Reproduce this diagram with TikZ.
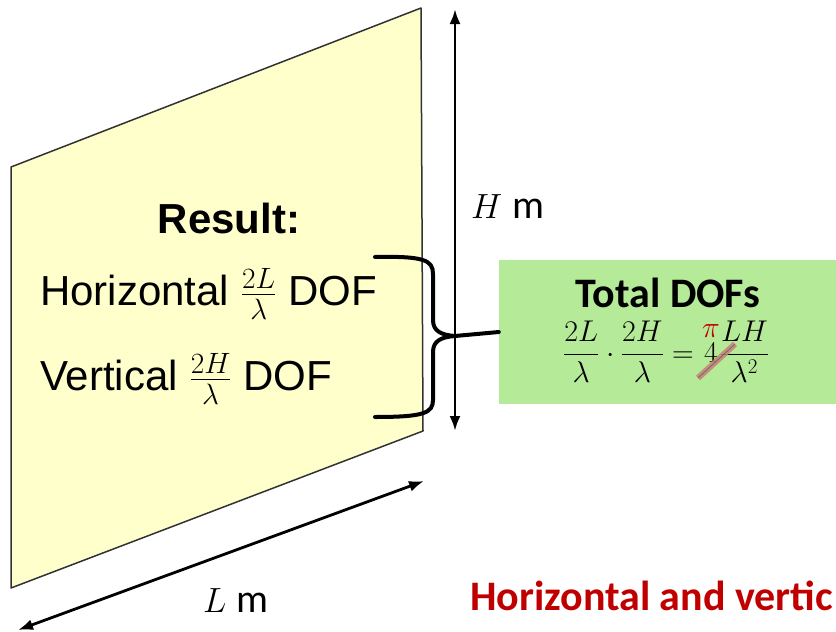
\RequirePackage{fix-cm}
\documentclass[tikz,border=0pt]{standalone}
\usepackage[no-math]{fontspec}
\usepackage{amsmath}
\setmainfont{Liberation Sans}
\newfontfamily\calibri{Carlito}
\usetikzlibrary{arrows.meta}
\definecolor{wallyellow}{RGB}{255,255,204}
\definecolor{wallline}{RGB}{50,50,50}
\definecolor{boxgreen}{RGB}{181,234,153}
\definecolor{darkred}{RGB}{192,0,0}
\definecolor{strikebrown}{RGB}{200,130,100}
\definecolor{strikeblue}{RGB}{90,80,200}
\begin{document}
\begin{tikzpicture}[x=1pt,y=-1pt,
  wall/.style={fill=wallyellow, draw=wallline, line width=1.5pt, line join=round},
  dimarrow/.style={line width=2.8pt, {Latex[length=15pt,width=11pt]}-{Latex[length=15pt,width=11pt]}},
  bracepath/.style={line width=4pt, line cap=round, line join=round},
  bigtext/.style={font=\fontsize{42}{50}\selectfont, inner sep=0pt},
  dimlabel/.style={font=\fontsize{35}{40}\selectfont, inner sep=0pt, anchor=base west},
  greenbox/.style={fill=boxgreen, draw=none, minimum width=337pt, minimum height=144pt, inner sep=0pt},
  eqtext/.style={font=\fontsize{30}{36}\selectfont, inner sep=0pt, anchor=base west},
  redtext/.style={font=\calibri\bfseries\fontsize{42}{50}\selectfont, text=darkred, inner sep=0pt, anchor=base west}
]
\useasboundingbox (0,0) rectangle (836,632);

% wall
\draw[wall] (11,167) -- (421,8) -- (423,431) -- (11,588) -- cycle;

% dimension arrows
\coordinate (htop) at (455,9);
\coordinate (hbot) at (455,431);
\draw[dimarrow] (hbot) -- (htop);
\coordinate (lright) at (424,481);
\coordinate (lleft) at (18,630);
\draw[dimarrow] (lleft) -- (lright);

\node[dimlabel] (hlabel) at (471,218) {$H$\;{\calibri\fontsize{40}{46}\selectfont m}};
\node[dimlabel] (llabel) at (203,612) {$L$\;{\calibri\fontsize{40}{46}\selectfont m}};

% texts on wall
\node[bigtext] (result) at (229,218) {\bfseries Result:};
\node[bigtext, anchor=base west] (horiz) at (40,305) {Horizontal $\frac{2L}{\lambda}$ DOF};
\node[bigtext, anchor=base west] (vert) at (40,390) {Vertical $\frac{2H}{\lambda}$ DOF};

% green box
\node[greenbox] (total) at (667.5,332) {};
\node[font=\calibri\bfseries\fontsize{42}{50}\selectfont, inner sep=0pt] (ttl) at (668,293) {Total DOFs};
\node[eqtext] (eq) at (563,362) {$\displaystyle\frac{2L}{\lambda}\cdot\frac{2H}{\lambda}=\overset{\textcolor{darkred}{\textstyle\pi}}{4}\frac{LH}{\lambda^2}$};
\coordinate (fourc) at ([shift={(146pt,11pt)}]eq.base west);
\coordinate (s1) at ([shift={(-11pt,-27pt)}]fourc);
\coordinate (s2) at ([shift={(26pt,7pt)}]fourc);
\draw[strikebrown, opacity=0.85, line width=6pt] (s1) -- (s2);
\draw[strikeblue, line width=0.6pt] (s1) -- (s2);

% brace
\coordinate (tip) at (455,336);
\draw[bracepath] (375,257) .. controls (424,256) and (433,260) .. (433,274)
  -- (433,320) .. controls (433,331) and (441,335) .. (tip)
  .. controls (441,337) and (433,341) .. (433,352)
  -- (433,400) .. controls (433,413) and (424,417) .. (375,417);
\draw[line width=4pt, line cap=round] (tip) -- (total.west);

% bottom red text
\node[redtext] (note) at (470,610) {Horizontal and vertic};
\end{tikzpicture}
\end{document}
